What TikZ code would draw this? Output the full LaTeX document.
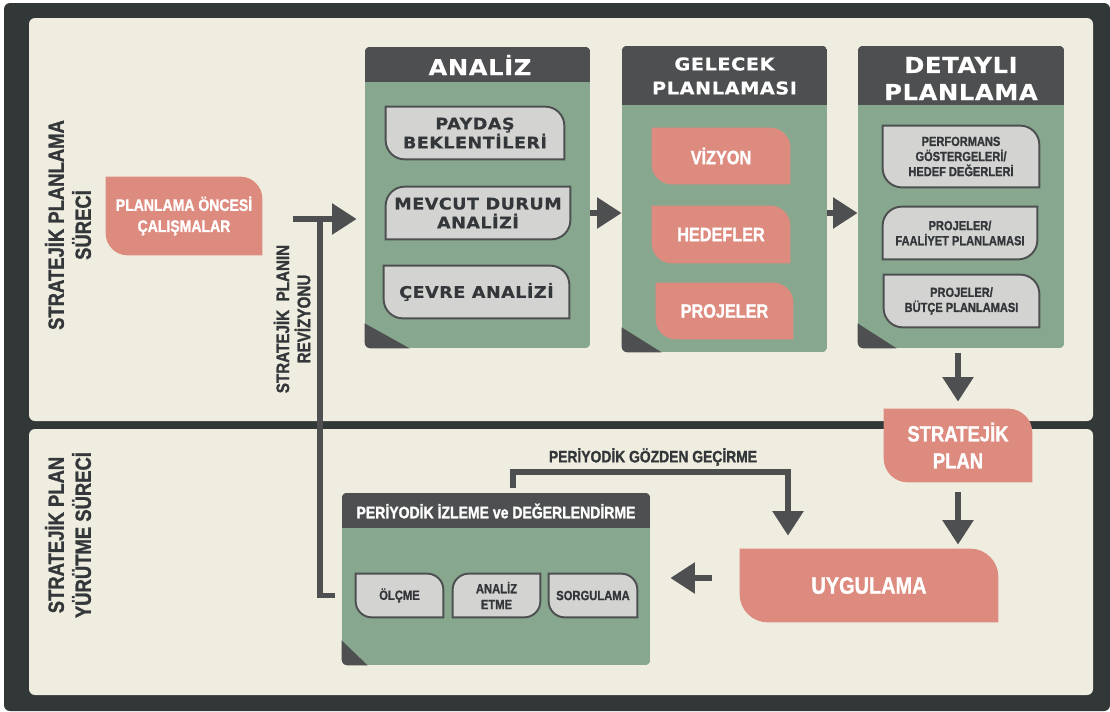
\documentclass[tikz,border=0pt]{standalone}
\usepackage{fontspec}
\setmainfont{Liberation Sans}
\newfontfamily\condf[FakeStretch=0.84,FakeBold=1.2]{Liberation Sans Bold}
\newfontfamily\widef[FakeStretch=1.1,LetterSpace=3,FakeBold=0.6]{DejaVu Sans Bold}
\newfontfamily\headf[FakeStretch=1.1,LetterSpace=3,FakeBold=0.5]{DejaVu Sans Bold}
\usetikzlibrary{arrows.meta}

\definecolor{frame}{HTML}{323837}
\definecolor{paper}{HTML}{EFEDE0}
\definecolor{headc}{HTML}{4E4F51}
\definecolor{sage}{HTML}{87A88E}
\definecolor{salmon}{HTML}{DE8B7F}
\definecolor{chipgray}{HTML}{D3D4D2}
\definecolor{ink}{HTML}{33373A}

\pgfdeclarelayer{back}
\pgfdeclarelayer{mid}
\pgfsetlayers{back,mid,main}

\newcommand\unitpx{0.02cm}

% leaf box: rounded top right and bottom left
\newcommand\leafa[3]{%
  \begin{pgfonlayer}{mid}
  \path[#1] (#2.north west) -- ([xshift=-#3*\unitpx]#2.north east)
    .. controls ([xshift=-0.45*#3*\unitpx]#2.north east) and ([yshift=-0.45*#3*\unitpx]#2.north east) .. ([yshift=-#3*\unitpx]#2.north east)
    -- (#2.south east) -- ([xshift=#3*\unitpx]#2.south west)
    .. controls ([xshift=0.45*#3*\unitpx]#2.south west) and ([yshift=0.45*#3*\unitpx]#2.south west) .. ([yshift=#3*\unitpx]#2.south west) -- cycle;
  \end{pgfonlayer}}
% leaf box: rounded top left and bottom right
\newcommand\leafb[3]{%
  \begin{pgfonlayer}{mid}
  \path[#1] ([yshift=-#3*\unitpx]#2.north west)
    .. controls ([yshift=-0.45*#3*\unitpx]#2.north west) and ([xshift=0.45*#3*\unitpx]#2.north west) .. ([xshift=#3*\unitpx]#2.north west)
    -- (#2.north east) -- ([yshift=#3*\unitpx]#2.south east)
    .. controls ([yshift=0.45*#3*\unitpx]#2.south east) and ([xshift=-0.45*#3*\unitpx]#2.south east) .. ([xshift=-#3*\unitpx]#2.south east)
    -- (#2.south west) -- cycle;
  \end{pgfonlayer}}
% green panel with dark head and corner
\newcommand\panelback[3]{%
  \begin{pgfonlayer}{back}
  \begin{scope}
    \clip[rounded corners=6*\unitpx] (#1.north west) rectangle (#1.south east);
    \fill[sage] (#1.north west) rectangle (#1.south east);
    \fill[headc] (#1.north west) rectangle ([yshift=-#2*\unitpx]#1.north east);
    \fill[headc] (#1.south west) -- ([yshift=25*\unitpx]#1.south west) -- ([xshift=#3*\unitpx]#1.south west) -- cycle;
  \end{scope}
  \end{pgfonlayer}}

\begin{document}
\begin{tikzpicture}[x=0.02cm, y=-0.02cm,
  flow/.style={draw=headc, line width=3.4pt, -{Triangle[length=14pt,width=17pt]}},
  rail/.style={draw=headc, line width=3.4pt},
  panel/.style={inner sep=0pt},
  headtext/.style={inner sep=0pt, align=center, text=white},
  lanelab/.style={rotate=90, align=center, text=ink, font={\condf\fontsize{12.5}{15.4}\selectfont}},
  chiptext/.style={inner sep=0pt, align=center, text=ink, font={\widef\fontsize{9.1}{10.8}\selectfont}},
  chipnarrow/.style={inner sep=0pt, align=center, text=ink, font={\condf\fontsize{7.5}{8.6}\selectfont}},
  pinktext/.style={inner sep=0pt, align=center, text=white, font={\condf\fontsize{11}{13}\selectfont}},
  chipbox/.style={fill=chipgray, draw=headc, line width=1.1pt},
  salmonbox/.style={fill=salmon},
]
\useasboundingbox (0,0) rectangle (1110,711);
\begin{pgfonlayer}{back}
  \fill[white] (0,0) rectangle (1110,711);
  \fill[frame, rounded corners=6*\unitpx] (4,3) rectangle (1110,711);
  \fill[paper, rounded corners=6*\unitpx] (29,18) rectangle (1093,421);
  \fill[paper, rounded corners=6*\unitpx] (29,429) rectangle (1093,695);
\end{pgfonlayer}

% lanes
\node[lanelab] (lanetop) at (68,225) {STRATEJİK PLANLAMA\\SÜRECİ};
\node[lanelab] (lanebot) at (68,535) {STRATEJİK PLAN\\YÜRÜTME SÜRECİ};

\node[pinktext, font={\condf\fontsize{9.5}{12}\selectfont}, minimum width=156*\unitpx, minimum height=78*\unitpx] (plan) at (184,216) {PLANLAMA ÖNCESİ\\ÇALIŞMALAR};
\leafa{salmonbox}{plan}{22}
\node[lanelab, font={\condf\fontsize{10.3}{12}\selectfont}] (revlab) at (292,319) {STRATEJİK\ \ PLANIN\\REVİZYONU};

% analiz
\node[panel, minimum width=225*\unitpx, minimum height=301*\unitpx] (analiz) at (477.5,197.5) {};
\panelback{analiz}{35}{45}
\node[headtext, font={\headf\fontsize{12.5}{15}\selectfont}] (analizt) at (480,65) {ANALİZ};
\node[chiptext, minimum width=178*\unitpx, minimum height=52*\unitpx] (payda) at (475,133) {PAYDAŞ\\BEKLENTİLERİ};
\leafa{chipbox}{payda}{19}
\node[chiptext, minimum width=184*\unitpx, minimum height=52*\unitpx] (mevcut) at (478,213) {MEVCUT DURUM\\ANALİZİ};
\leafb{chipbox}{mevcut}{19}
\node[chiptext, minimum width=185*\unitpx, minimum height=52*\unitpx] (cevre) at (476.5,292) {ÇEVRE ANALİZİ};
\leafa{chipbox}{cevre}{19}

% gelecek planlamasi
\node[panel, minimum width=205*\unitpx, minimum height=306*\unitpx] (gelecek) at (724.5,199) {};
\panelback{gelecek}{59}{40}
\node[headtext, font={\headf\fontsize{10}{13.7}\selectfont}] (gelecekt) at (724.5,76) {GELECEK\\PLANLAMASI};
\node[pinktext, minimum width=138*\unitpx, minimum height=56*\unitpx] (vizyon) at (721,156) {VİZYON};
\leafa{salmonbox}{vizyon}{20}
\node[pinktext, minimum width=138*\unitpx, minimum height=57*\unitpx] (hedef) at (721,234.5) {HEDEFLER};
\leafa{salmonbox}{hedef}{20}
\node[pinktext, minimum width=137*\unitpx, minimum height=56*\unitpx] (proje) at (724.5,311) {PROJELER};
\leafa{salmonbox}{proje}{20}

% detayli planlama
\node[panel, minimum width=206*\unitpx, minimum height=302*\unitpx] (detayli) at (961,197) {};
\panelback{detayli}{59}{39}
\node[headtext, font={\headf\fontsize{12.5}{15.4}\selectfont}] (detaylit) at (961,78.5) {DETAYLI\\PLANLAMA};
\node[chipnarrow, minimum width=156*\unitpx, minimum height=61*\unitpx] (perf) at (961,156.5) {PERFORMANS\\GÖSTERGELERİ/\\HEDEF DEĞERLERİ};
\leafa{chipbox}{perf}{19}
\node[chipnarrow, minimum width=154*\unitpx, minimum height=52*\unitpx] (faal) at (960,233) {PROJELER/\\FAALİYET PLANLAMASI};
\leafb{chipbox}{faal}{19}
\node[chipnarrow, minimum width=155*\unitpx, minimum height=52*\unitpx] (butce) at (961.5,301) {PROJELER/\\BÜTÇE PLANLAMASI};
\leafa{chipbox}{butce}{19}

% plan and uygulama
\node[pinktext, font={\condf\fontsize{12.5}{15.4}\selectfont}, minimum width=148*\unitpx, minimum height=73*\unitpx] (stratplan) at (958,445.5) {STRATEJİK\\PLAN};
\leafa{salmonbox}{stratplan}{24}
\node[pinktext, font={\condf\fontsize{13.5}{16}\selectfont}, minimum width=258*\unitpx, minimum height=73*\unitpx] (uygulama) at (869,585.5) {UYGULAMA};
\leafa{salmonbox}{uygulama}{28}

% periyodik izleme
\node[panel, minimum width=308*\unitpx, minimum height=172*\unitpx] (periyodik) at (496,579) {};
\panelback{periyodik}{35}{26}
\node[headtext, font={\condf\fontsize{9.5}{12}\selectfont}] (periyodikt) at (496,511) {PERİYODİK İZLEME ve DEĞERLENDİRME};
\node[chipnarrow, font={\condf\fontsize{7.6}{9}\selectfont}, minimum width=87*\unitpx, minimum height=43*\unitpx] (olcme) at (399.5,595.5) {ÖLÇME};
\leafa{chipbox}{olcme}{16}
\node[chipnarrow, font={\condf\fontsize{7.6}{9}\selectfont}, minimum width=87*\unitpx, minimum height=43*\unitpx] (analizetme) at (496.5,595.5) {ANALİZ\\ETME};
\leafb{chipbox}{analizetme}{16}
\node[chipnarrow, font={\condf\fontsize{7.6}{9}\selectfont}, minimum width=88*\unitpx, minimum height=43*\unitpx] (sorgu) at (593,595.5) {SORGULAMA};
\leafa{chipbox}{sorgu}{16}

% connectors
\coordinate (revtop) at (320,219);
\draw[rail] ([xshift=-7*\unitpx]periyodik.west |- olcme) -| (revtop);
\draw[flow, shorten >=8*\unitpx] ([xshift=31*\unitpx]plan.east |- revtop) -- (analiz.west |- revtop);
\draw[flow] (analiz.east |- mevcut) -- (gelecek.west |- mevcut);
\draw[flow] (gelecek.east |- mevcut) -- (detayli.west |- mevcut);
\draw[flow, shorten <=5*\unitpx, shorten >=7*\unitpx] (detayli.south -| stratplan) -- (stratplan.north);
\draw[flow, shorten <=10*\unitpx, shorten >=4*\unitpx] (stratplan.south) -- (stratplan.south |- uygulama.north);
\draw[flow, shorten <=28*\unitpx, shorten >=20*\unitpx] ([yshift=7.5*\unitpx]uygulama.west) -- ([yshift=7.5*\unitpx]uygulama.west -| periyodik.east);
\draw[flow, shorten >=13*\unitpx] ([xshift=17*\unitpx,yshift=5*\unitpx]periyodik.north) -- ++(0,-16) -| ([xshift=-81*\unitpx]uygulama.north);
\node[text=ink, font={\condf\fontsize{9.4}{11}\selectfont}] (gozden) at (653,457) {PERİYODİK GÖZDEN GEÇİRME};
\end{tikzpicture}
\end{document}
